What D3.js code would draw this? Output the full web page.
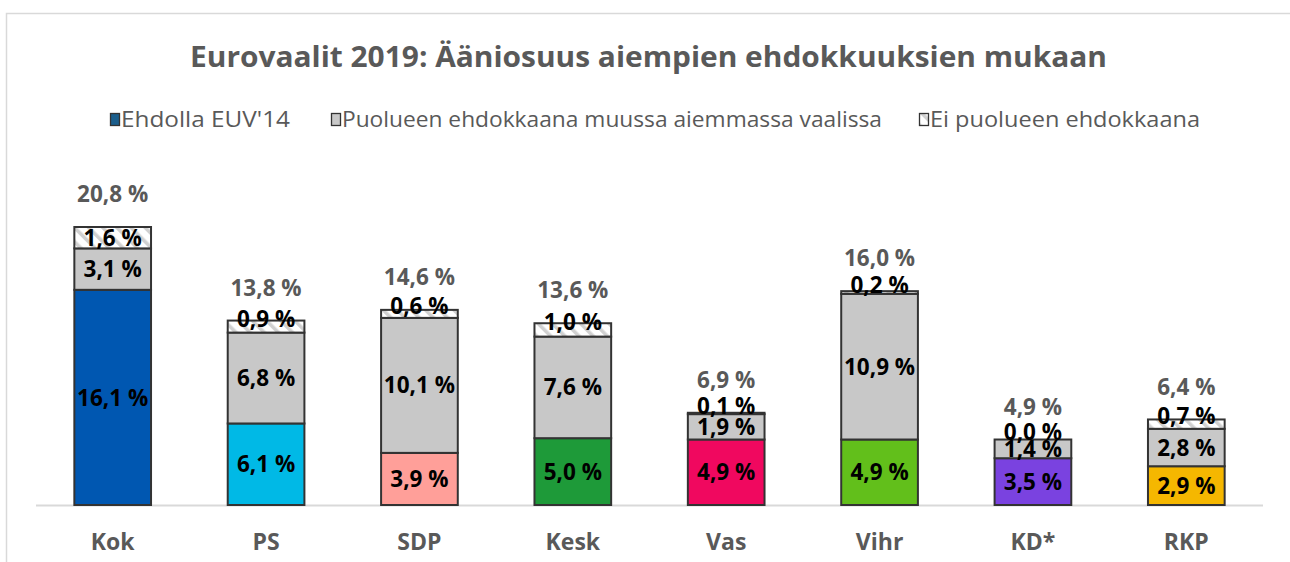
<!DOCTYPE html>
<html><head><meta charset="utf-8">
<script src="https://cdn.jsdelivr.net/npm/d3@7"></script>
<style>body{margin:0;background:#fff;} svg{display:block;font-family:"Open Sans","Noto Sans",sans-serif;}</style>
</head><body>
<svg id="c" width="1290" height="562"></svg>
<script>
const categories = ["Kok","PS","SDP","Kesk","Vas","Vihr","KD*","RKP"];
const seriesNames = ["Ehdolla EUV'14","Puolueen ehdokkaana muussa aiemmassa vaalissa","Ei puolueen ehdokkaana"];
const ehdolla = [16.1, 6.1, 3.9, 5.0, 4.9, 4.9, 3.5, 2.9];
const puolueen = [3.1, 6.8, 10.1, 7.6, 1.9, 10.9, 1.4, 2.8];
const eiPuolueen = [1.6, 0.9, 0.6, 1.0, 0.1, 0.2, 0.0, 0.7];
const totals = [20.8, 13.8, 14.6, 13.6, 6.9, 16.0, 4.9, 6.4];
const partyColors = ["#0057B1","#00B9E6","#FF9F99","#1E9A39","#F0085F","#62BF1B","#7A42E0","#F5B700"];
const titleText = "Eurovaalit 2019: Ääniosuus aiempien ehdokkuuksien mukaan";

const svg = d3.select("#c");
const defs = svg.append("defs");
const pat = defs.append("pattern").attr("id","hatch").attr("patternUnits","userSpaceOnUse")
  .attr("width",10).attr("height",10).attr("patternTransform","rotate(-45)");
pat.append("rect").attr("width",10).attr("height",10).attr("fill","#fff");
pat.append("rect").attr("x",0).attr("width",3.5).attr("height",10).attr("fill","#d0d0d0");

// chart border
svg.append("rect").attr("x",6.5).attr("y",13.5).attr("width",1300).attr("height",600)
  .attr("fill","none").attr("stroke","#d9d9d9").attr("stroke-width",1.5);

const fmt = v => d3.format(".1f")(v).replace(".", ",") + " %";

const x = d3.scaleBand().domain(categories).range([36, 1263]).paddingInner(0.5).paddingOuter(0.25);
const y = d3.scaleLinear().domain([0, 20.8]).range([505, 227]);

svg.append("text").attr("x",190).attr("y",67)
  .attr("font-size",28.5).attr("font-weight","bold").attr("fill","#595959")
  .attr("textLength",917).attr("lengthAdjust","spacingAndGlyphs").text(titleText);

// legend
const legendX = [110, 331, 919];
const legendW = [169, 540, 270];
const legendFills = ["#1B5E8C","#c8c8c8","url(#hatch)"];
seriesNames.forEach((n,i)=>{
  svg.append("rect").attr("x",legendX[i]+0.5).attr("y",113.5).attr("width",9).attr("height",12)
    .attr("fill",legendFills[i]).attr("stroke","#333").attr("stroke-width",1.3);
  svg.append("text").attr("x",legendX[i]+11).attr("y",127).attr("font-size",21)
    .attr("textLength",legendW[i]).attr("lengthAdjust","spacingAndGlyphs")
    .attr("fill","#595959").text(n);
});

// axis line
svg.append("line").attr("x1",36).attr("x2",1263).attr("y1",505.5).attr("y2",505.5)
  .attr("stroke","#d9d9d9").attr("stroke-width",2);

const stacks = categories.map((c,i)=>{
  const a = ehdolla[i], b = puolueen[i], e = eiPuolueen[i];
  return [
    {c, y0:0, y1:a, v:a, fill:partyColors[i], top:false},
    {c, y0:a, y1:a+b, v:b, fill:"#c8c8c8", top:false},
    {c, y0:a+b, y1:a+b+e, v:e, fill:"url(#hatch)", top:true}
  ];
});

const g = svg.append("g");
stacks.forEach((segs,i)=>{
  segs.forEach(s=>{
    g.append("rect").attr("x",x(s.c)).attr("width",x.bandwidth())
      .attr("y",y(s.y1)).attr("height",Math.max(0,y(s.y0)-y(s.y1)))
      .attr("fill",s.fill).attr("stroke","#333").attr("stroke-width",2);
  });
});
stacks.forEach((segs,i)=>{
  segs.forEach(s=>{
    const h = y(s.y0)-y(s.y1);
    let cy = (y(s.y0)+y(s.y1))/2;
    if (s.top && h < 15) cy -= 8;
    g.append("text").attr("x",x(s.c)+x.bandwidth()/2).attr("y",cy)
      .attr("dy","0.36em").attr("text-anchor","middle").attr("font-size",22.5)
      .attr("font-weight","bold").attr("fill","#000").text(fmt(s.v));
  });
  const top = segs[2].y1;
  g.append("text").attr("x",x(categories[i])+x.bandwidth()/2).attr("y",y(top)-33)
    .attr("dy","0.36em").attr("text-anchor","middle").attr("font-size",22.5)
    .attr("font-weight","bold").attr("fill","#595959").text(fmt(totals[i]));
});

// category labels
svg.append("g").selectAll("text").data(categories).join("text")
  .attr("x",d=>x(d)+x.bandwidth()/2).attr("y",550).attr("text-anchor","middle")
  .attr("font-size",23).attr("font-weight","bold").attr("fill","#595959").text(d=>d);
</script>
</body></html>
